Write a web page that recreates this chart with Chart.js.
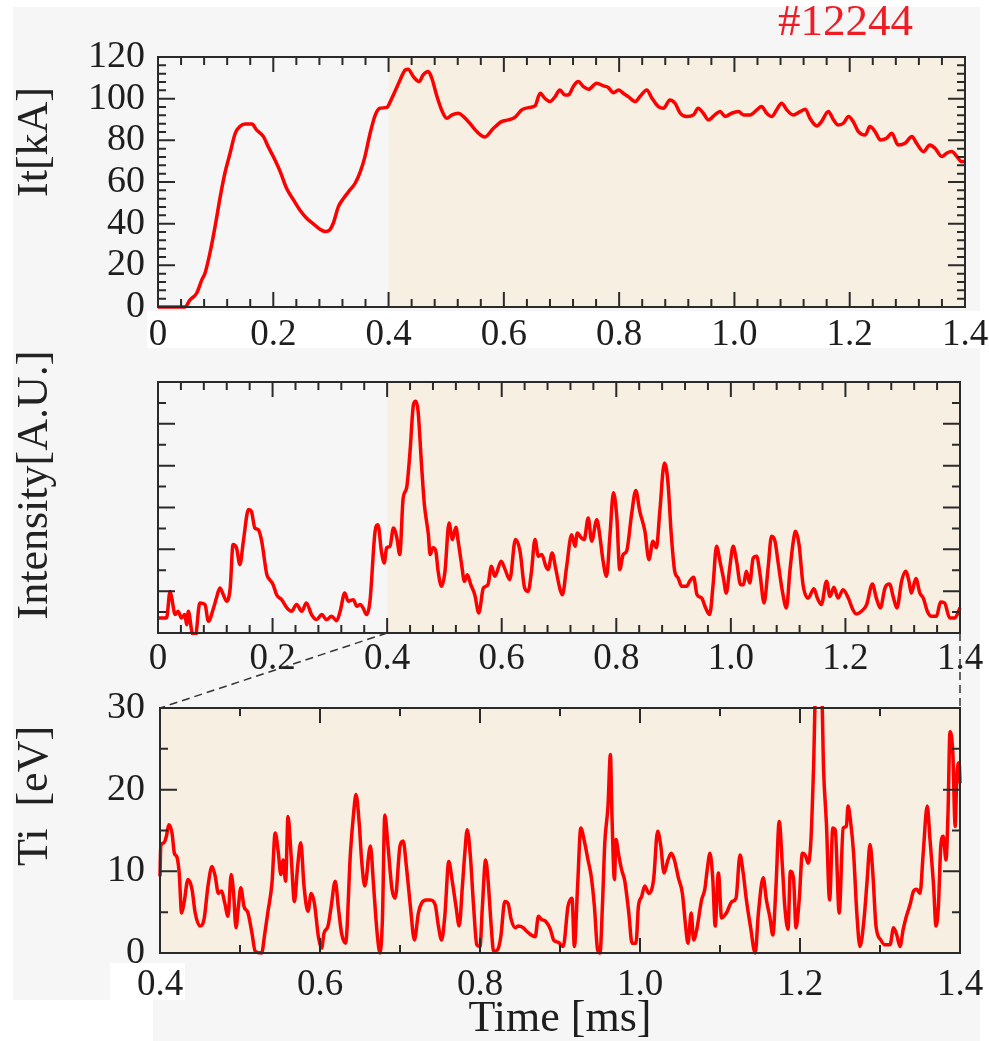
<!DOCTYPE html>
<html>
<head>
<meta charset="utf-8">
<script src="https://cdn.jsdelivr.net/npm/chart.js@4.4.1/dist/chart.umd.min.js"></script>
<style>
  html, body { margin: 0; padding: 0; background: #fff; }
  #page { position: relative; width: 989px; height: 1041px; overflow: hidden; background: #fff; }
  #paper { position: absolute; left: 13px; top: 7px; width: 967px; height: 1034px; background: #f6f6f6; }
  .patch { position: absolute; background: #fff; }
  canvas { position: absolute; left: 0; }
  .ylab { position: absolute; font-family: "Liberation Serif", serif; font-size: 44px; line-height: 44px;
          color: #222; white-space: pre; transform: translate(-50%, -50%) rotate(-90deg); }
  #shot { position: absolute; left: 778px; top: -2px; font-family: "Liberation Serif", serif;
          font-size: 45px; line-height: 45px; color: #ee1c24; }
</style>
</head>
<body>
<div id="page">
  <div id="paper"></div>
  <div class="patch" style="left:147px; top:311px; width:833px; height:37px"></div>
  <div class="patch" style="left:110px; top:963px; width:75px; height:37px"></div>
  <div class="patch" style="left:13px; top:1000px; width:140px; height:41px"></div>
  <canvas id="c1" width="989" height="365" style="top:0px"></canvas>
  <canvas id="c2" width="989" height="340" style="top:340px"></canvas>
  <canvas id="c3" width="989" height="361" style="top:680px"></canvas>
  <canvas id="over" width="989" height="1041" style="top:0px"></canvas>
  <div class="ylab" style="left:33px; top:142px">It[kA]</div>
  <div class="ylab" style="left:33px; top:485px">Intensity[A.U.]</div>
  <div class="ylab" style="left:33px; top:796px">Ti  [eV]</div>
  <div id="shot">#12244</div>
</div>
<script>
// plasma current, top panel
var currentT = [0, 0.047, 0.0555, 0.067, 0.076, 0.0815, 0.090, 0.099, 0.108, 0.116, 0.125, 0.134, 0.142, 0.151, 0.163,
  0.171, 0.183, 0.191, 0.200, 0.212, 0.223, 0.235, 0.246, 0.258, 0.270, 0.281, 0.290, 0.298, 0.304, 0.313, 0.322,
  0.333, 0.342, 0.351, 0.359, 0.368, 0.377, 0.385, 0.397, 0.403, 0.411, 0.420, 0.429, 0.434, 0.443, 0.453, 0.460,
  0.469, 0.475, 0.484, 0.492, 0.501, 0.510, 0.521, 0.530, 0.541, 0.553, 0.567, 0.582, 0.596, 0.608, 0.619, 0.631,
  0.645, 0.654, 0.663, 0.671, 0.680, 0.689, 0.697, 0.706, 0.712, 0.721, 0.729, 0.738, 0.747, 0.761, 0.773, 0.781,
  0.790, 0.799, 0.807, 0.816, 0.828, 0.836, 0.848, 0.857, 0.868, 0.877, 0.888, 0.897, 0.906, 0.917, 0.929, 0.937,
  0.946, 0.955, 0.966, 0.975, 0.984, 0.995, 1.007, 1.016, 1.027, 1.039, 1.047, 1.056, 1.065, 1.073, 1.082, 1.091,
  1.102, 1.114, 1.123, 1.131, 1.143, 1.151, 1.163, 1.172, 1.180, 1.189, 1.198, 1.206, 1.215, 1.227, 1.235, 1.244,
  1.253, 1.264, 1.273, 1.284, 1.296, 1.308, 1.316, 1.328, 1.339, 1.348, 1.360, 1.368, 1.377, 1.386, 1.394, 1.400];
var currentKA = [0, 0, 3.4, 6.6, 13.0, 16.2, 25.8, 38.6, 53.0, 64.2, 73.8, 83.4, 86.6, 87.8, 87.8,
  85.0, 81.8, 77.0, 72.2, 65.0, 57.0, 51.4, 46.6, 42.6, 39.8, 37.3, 36.2, 37.0, 40.2, 48.2, 52.2,
  56.2, 59.4, 65.0, 72.2, 83.4, 92.2, 95.4, 95.8, 98.6, 103.4, 109.0, 113.8, 114.1, 110.6, 108.2, 111.4,
  113.0, 109.8, 101.0, 94.6, 90.6, 92.2, 93.0, 91.4, 88.2, 84.2, 81.6, 85.8, 89.0, 89.8, 91.0, 94.6,
  95.8, 96.5, 102.6, 100.2, 98.6, 101.0, 104.2, 101.8, 101.8, 106.1, 108.2, 105.8, 104.5, 107.4, 106.1, 105.4,
  102.9, 104.2, 102.6, 101.0, 98.6, 101.0, 104.2, 100.2, 96.2, 95.4, 99.4, 97.8, 93.0, 91.4, 92.2, 95.4,
  93.0, 89.8, 92.2, 93.8, 91.4, 93.0, 93.8, 92.2, 92.2, 94.6, 96.2, 93.0, 91.4, 94.6, 97.8, 94.6,
  92.2, 93.8, 94.9, 90.6, 86.9, 89.0, 93.8, 89.8, 87.4, 88.2, 91.4, 89.0, 84.2, 82.6, 86.6, 84.2,
  80.2, 81.0, 83.4, 77.8, 78.6, 81.8, 78.6, 74.6, 77.8, 76.2, 72.2, 73.8, 74.6, 72.2, 69.8, 69.8];

// emission intensity, middle panel
var intensityT = [0, 0.015, 0.021, 0.024, 0.030, 0.035, 0.041, 0.047, 0.050, 0.053, 0.059, 0.065, 0.073, 0.082, 0.088,
  0.097, 0.102, 0.108, 0.114, 0.120, 0.126, 0.131, 0.137, 0.143, 0.149, 0.158, 0.163, 0.169, 0.175, 0.181, 0.190,
  0.195, 0.201, 0.207, 0.216, 0.225, 0.233, 0.242, 0.251, 0.259, 0.268, 0.277, 0.286, 0.294, 0.303, 0.312, 0.318,
  0.326, 0.332, 0.341, 0.347, 0.353, 0.358, 0.364, 0.370, 0.379, 0.384, 0.390, 0.395, 0.399, 0.405, 0.411, 0.417,
  0.422, 0.428, 0.434, 0.440, 0.446, 0.450, 0.454, 0.460, 0.465, 0.472, 0.475, 0.480, 0.485, 0.489, 0.495, 0.501,
  0.508, 0.514, 0.520, 0.524, 0.530, 0.535, 0.540, 0.546, 0.553, 0.560, 0.568, 0.576, 0.582, 0.588, 0.599, 0.606,
  0.614, 0.624, 0.632, 0.640, 0.646, 0.652, 0.658, 0.664, 0.670, 0.677, 0.681, 0.688, 0.694, 0.702, 0.706, 0.713,
  0.722, 0.728, 0.732, 0.739, 0.744, 0.751, 0.757, 0.766, 0.771, 0.777, 0.783, 0.789, 0.795, 0.801, 0.806, 0.812,
  0.818, 0.827, 0.834, 0.841, 0.850, 0.857, 0.864, 0.870, 0.876, 0.884, 0.890, 0.896, 0.902, 0.908, 0.914, 0.923,
  0.928, 0.935, 0.941, 0.949, 0.956, 0.963, 0.969, 0.975, 0.981, 0.987, 0.992, 0.998, 1.004, 1.010, 1.017, 1.022,
  1.027, 1.033, 1.039, 1.045, 1.051, 1.058, 1.065, 1.071, 1.077, 1.083, 1.090, 1.097, 1.103, 1.109, 1.113, 1.119,
  1.126, 1.135, 1.145, 1.151, 1.158, 1.167, 1.173, 1.180, 1.187, 1.196, 1.205, 1.213, 1.219, 1.228, 1.237, 1.247,
  1.254, 1.261, 1.269, 1.277, 1.284, 1.290, 1.298, 1.305, 1.311, 1.315, 1.323, 1.330, 1.336, 1.343, 1.350, 1.359,
  1.366, 1.373, 1.382, 1.391, 1.400];
var intensityAU = [0.72, 0.72, 1.99, 1.67, 0.88, 1.04, 0.72, 0.88, 0.40, 1.04, 0.08, -0.2, 1.44, 1.36, 0.56,
  1.20, 1.67, 2.15, 1.83, 1.52, 2.15, 4.23, 4.07, 3.27, 4.39, 5.90, 5.82, 5.02, 4.94, 4.39, 2.79,
  2.55, 2.31, 1.83, 1.59, 1.20, 1.04, 1.36, 1.04, 1.44, 0.88, 0.64, 0.88, 0.64, 0.80, 0.59, 1.04,
  1.91, 1.52, 1.59, 1.28, 1.36, 1.20, 0.88, 1.52, 4.86, 5.18, 3.91, 3.35, 4.07, 4.15, 5.02, 4.55,
  3.75, 6.46, 6.94, 8.69, 10.93, 11.08, 10.61, 8.05, 6.14, 4.70, 3.75, 4.07, 3.91, 2.95, 2.23, 2.95,
  5.26, 4.47, 5.06, 4.39, 3.27, 2.47, 2.79, 2.31, 1.83, 0.96, 2.15, 2.31, 3.19, 2.71, 3.43, 3.03,
  2.55, 4.47, 3.91, 2.15, 1.99, 2.95, 4.47, 3.67, 3.75, 3.19, 3.03, 3.83, 3.11, 2.07, 1.83, 3.11,
  4.70, 4.15, 4.78, 4.55, 4.47, 5.50, 4.39, 5.42, 4.70, 3.43, 2.71, 4.70, 6.70, 5.50, 3.03, 3.75,
  3.91, 5.74, 6.81, 5.82, 4.86, 3.51, 4.39, 4.07, 5.82, 8.13, 7.26, 4.70, 2.95, 2.63, 2.23, 2.23,
  2.47, 2.66, 1.83, 1.67, 1.20, 0.88, 2.31, 4.15, 3.43, 2.63, 1.91, 3.11, 4.15, 3.43, 2.31, 2.31,
  2.95, 2.39, 3.59, 3.67, 2.79, 1.44, 3.11, 4.63, 4.39, 3.27, 1.99, 1.20, 2.95, 4.39, 4.86, 4.23,
  2.31, 1.67, 2.12, 1.67, 1.36, 2.47, 1.75, 2.19, 1.67, 2.07, 1.67, 1.12, 0.91, 1.04, 1.36, 2.34,
  1.67, 1.20, 2.15, 2.34, 1.67, 1.20, 2.47, 2.95, 2.47, 1.91, 2.60, 1.91, 1.67, 1.04, 0.80, 0.80,
  1.48, 1.44, 0.72, 0.72, 1.20];

// ion temperature, bottom panel (zoom of 0.4 - 1.4 ms)
var tiT = [0.400, 0.401, 0.405, 0.408, 0.411, 0.415, 0.418, 0.421, 0.424, 0.427, 0.430, 0.435, 0.440, 0.444, 0.450,
  0.455, 0.460, 0.465, 0.469, 0.473, 0.477, 0.481, 0.485, 0.489, 0.492, 0.495, 0.498, 0.501, 0.505, 0.510, 0.515,
  0.519, 0.527, 0.531, 0.535, 0.540, 0.544, 0.548, 0.551, 0.554, 0.557, 0.560, 0.564, 0.568, 0.572, 0.576, 0.580,
  0.585, 0.589, 0.593, 0.598, 0.602, 0.605, 0.610, 0.614, 0.619, 0.623, 0.627, 0.632, 0.638, 0.642, 0.645, 0.649,
  0.652, 0.656, 0.663, 0.667, 0.671, 0.675, 0.678, 0.681, 0.685, 0.690, 0.694, 0.700, 0.704, 0.708, 0.713, 0.718,
  0.723, 0.727, 0.733, 0.738, 0.744, 0.748, 0.752, 0.756, 0.761, 0.765, 0.770, 0.774, 0.778, 0.781, 0.784, 0.788,
  0.792, 0.796, 0.800, 0.803, 0.807, 0.810, 0.814, 0.817, 0.822, 0.826, 0.831, 0.835, 0.839, 0.844, 0.848, 0.854,
  0.858, 0.864, 0.869, 0.873, 0.877, 0.882, 0.888, 0.892, 0.898, 0.904, 0.910, 0.915, 0.918, 0.922, 0.926, 0.930,
  0.935, 0.939, 0.943, 0.947, 0.950, 0.953, 0.956, 0.960, 0.963, 0.965, 0.968, 0.970, 0.973, 0.977, 0.981, 0.986,
  0.990, 0.995, 0.998, 1.002, 1.006, 1.011, 1.017, 1.022, 1.026, 1.030, 1.035, 1.039, 1.043, 1.048, 1.053, 1.057,
  1.060, 1.064, 1.067, 1.071, 1.077, 1.081, 1.084, 1.0875, 1.091, 1.094, 1.098, 1.102, 1.108, 1.115, 1.120, 1.125,
  1.129, 1.133, 1.138, 1.144, 1.148, 1.154, 1.158, 1.1625, 1.166, 1.170, 1.174, 1.178, 1.181, 1.185, 1.188, 1.192,
  1.195, 1.199, 1.203, 1.2075, 1.210, 1.2135, 1.217, 1.2195, 1.227, 1.2295, 1.233, 1.237, 1.241, 1.244, 1.249, 1.254,
  1.258, 1.260, 1.263, 1.267, 1.271, 1.275, 1.280, 1.284, 1.2875, 1.291, 1.295, 1.301, 1.306, 1.3125, 1.317, 1.321,
  1.325, 1.329, 1.333, 1.3375, 1.342, 1.346, 1.350, 1.354, 1.359, 1.3625, 1.367, 1.370, 1.373, 1.376, 1.379, 1.3825,
  1.385, 1.3875, 1.391, 1.394, 1.396, 1.399, 1.400];
var tiEV = [9.4, 13.1, 13.5, 14.3, 15.7, 14.7, 12.2, 11.8, 9.8, 4.9, 6.1, 9.0, 7.8, 4.9, 3.3,
  4.1, 8.2, 10.6, 9.4, 7.3, 7.6, 6.1, 4.5, 9.6, 7.3, 3.1, 5.7, 8.0, 5.7, 4.9, 2.4,
  0.2, 0, 2.4, 5.1, 8.6, 14.7, 12.2, 9.6, 11.4, 8.8, 16.7, 11.8, 6.3, 10.6, 13.5, 8.2,
  5.1, 7.3, 6.1, 2.0, 0.6, 2.4, 3.3, 5.7, 8.8, 5.5, 2.4, 1.2, 12.2, 17.1, 19.4, 15.9,
  11.4, 8.2, 13.1, 8.2, 2.9, 0, 4.1, 16.9, 13.1, 7.8, 6.7, 13.1, 13.7, 10.6, 5.7, 1.6,
  4.9, 6.1, 6.5, 6.5, 5.9, 3.3, 1.6, 4.5, 11.2, 9.0, 5.7, 3.3, 8.2, 12.2, 15.1, 11.8,
  5.7, 1.0, 0.8, 5.7, 11.4, 9.0, 3.3, 0.2, 0.4, 2.0, 6.3, 6.1, 4.1, 3.1, 3.3, 3.1,
  2.7, 2.2, 2.0, 4.5, 4.1, 3.9, 2.9, 1.6, 1.3, 0.8, 5.7, 6.7, 0.8, 8.2, 15.3, 13.9,
  11.4, 9.4, 5.7, 0.4, 0, 5.7, 13.5, 18.0, 24.3, 16.7, 9.0, 13.9, 12.2, 10.2, 8.8, 4.9,
  1.2, 1.2, 5.7, 6.9, 8.2, 7.3, 9.0, 14.9, 13.1, 9.8, 11.4, 12.2, 11.4, 9.2, 7.3, 3.3,
  1.2, 4.9, 1.6, 2.9, 6.5, 7.8, 10.2, 12.2, 9.0, 3.3, 9.8, 4.3, 4.9, 6.3, 6.7, 12.0,
  9.8, 6.5, 3.3, 0, 4.9, 9.2, 6.5, 4.3, 2.2, 8.2, 16.1, 10.6, 5.7, 2.9, 10.0, 9.0,
  3.1, 6.5, 12.2, 11.8, 11.0, 13.5, 22.9, 32, 32, 22.4, 15.9, 6.5, 15.3, 15.1, 4.9, 15.3,
  15.5, 18.0, 16.3, 12.2, 4.9, 0.8, 4.1, 9.0, 13.3, 9.8, 3.3, 1.6, 1.0, 1.0, 3.1, 2.2,
  0.8, 2.9, 4.5, 5.9, 7.6, 7.8, 7.3, 12.2, 18.0, 13.9, 8.2, 3.3, 5.7, 13.1, 14.3, 11.4,
  17.1, 27.1, 24.5, 15.5, 21.6, 23.3, 20.8];

// tick labels
var timeTicksFull = [0, 0.2, 0.4, 0.6, 0.8, 1.0, 1.2, 1.4];
var timeTicksZoom = [0.4, 0.6, 0.8, 1.0, 1.2, 1.4];
var currentTicks = [0, 20, 40, 60, 80, 100, 120];
var tiTicks = [0, 10, 20, 30];

var serif = "'Liberation Serif', 'Times New Roman', serif";
var ink = "#1e1e1e";
var beige = "rgb(248, 239, 227)";

// shaded window + box frame with inward ticks on all four sides
var framePlugin = {
    id: "frame",
    beforeDatasetsDraw: function (chart, args, opts) {
        var a = chart.chartArea;
        var ctx = chart.ctx;
        var s = chart.scales.x.getPixelForValue(opts.shadeFrom);
        ctx.save();
        ctx.fillStyle = beige;
        ctx.fillRect(s, a.top, a.right - s, a.bottom - a.top);
        ctx.restore();
    },
    afterDatasetsDraw: function (chart, args, opts) {
        var a = chart.chartArea;
        var ctx = chart.ctx;
        var sx = chart.scales.x, sy = chart.scales.y;
        ctx.save();
        ctx.strokeStyle = "#2a2a2a";
        ctx.lineWidth = 2;
        ctx.beginPath();
        var n = Math.round((sx.max - sx.min) / opts.xStep);
        for (var i = 0; i <= n; i++) {
            var px = sx.getPixelForValue(sx.min + i * opts.xStep);
            var len = (i % opts.xEvery === 0) ? 15 : 8;
            ctx.moveTo(px, a.bottom); ctx.lineTo(px, a.bottom - len);
            ctx.moveTo(px, a.top); ctx.lineTo(px, a.top + len);
        }
        var m = Math.round((sy.max - sy.min) / opts.yStep);
        for (var j = 0; j <= m; j++) {
            var py = sy.getPixelForValue(sy.min + j * opts.yStep);
            var len2 = (j % opts.yEvery === 0) ? 17 : 8;
            ctx.moveTo(a.left, py); ctx.lineTo(a.left + len2, py);
            ctx.moveTo(a.right, py); ctx.lineTo(a.right - len2, py);
        }
        ctx.stroke();
        ctx.strokeRect(a.left, a.top, a.right - a.left, a.bottom - a.top);
        ctx.restore();
    }
};
Chart.register(framePlugin);

function toPoints(xs, ys) {
    var pts = [];
    for (var i = 0; i < xs.length; i++) {
        pts.push({x: xs[i], y: ys[i]});
    }
    return pts;
}

function timeLabel(v) {
    return v === 0 ? "0" : v.toFixed(1);
}

function makePanel(id, cfg) {
    return new Chart(document.getElementById(id), {
        type: "line",
        data: {
            datasets: [{
                data: toPoints(cfg.xs, cfg.ys),
                borderColor: "#ff0000",
                borderWidth: 3.5,
                pointRadius: 0,
                cubicInterpolationMode: "monotone",
                clip: 2
            }]
        },
        options: {
            animation: false,
            responsive: false,
            events: [],
            layout: {padding: cfg.padding},
            plugins: {
                legend: {display: false},
                tooltip: {enabled: false},
                frame: cfg.frame
            },
            scales: {
                x: {
                    type: "linear",
                    min: cfg.xMin,
                    max: 1.4,
                    grid: {display: false},
                    border: {display: false},
                    title: cfg.xTitle || {display: false},
                    afterBuildTicks: function (s) {
                        s.ticks = cfg.xTicks.map(function (v) { return {value: v}; });
                    },
                    ticks: {
                        autoSkip: false,
                        maxRotation: 0,
                        padding: cfg.xPad,
                        color: ink,
                        font: {family: serif, size: 37, lineHeight: 1},
                        callback: timeLabel
                    },
                    afterFit: function (s) {
                        s.height = cfg.xHeight;
                        s.paddingLeft = 0;
                        s.paddingRight = 0;
                    }
                },
                y: {
                    min: cfg.yMin,
                    max: cfg.yMax,
                    grid: {display: false},
                    border: {display: false},
                    afterBuildTicks: function (s) {
                        if (cfg.yTicks) {
                            s.ticks = cfg.yTicks.map(function (v) { return {value: v}; });
                        }
                    },
                    ticks: {
                        display: !!cfg.yTicks,
                        padding: cfg.yPad,
                        color: ink,
                        font: {family: serif, size: 38, lineHeight: 1}
                    },
                    afterFit: function (s) {
                        s.width = cfg.yWidth;
                        s.paddingTop = 0;
                        s.paddingBottom = 0;
                    }
                }
            }
        }
    });
}

var chart1 = makePanel("c1", {
    xs: currentT, ys: currentKA,
    xMin: 0, xTicks: timeTicksFull, xPad: 2, xHeight: 50,
    yMin: 0, yMax: 120, yTicks: currentTicks, yPad: 5, yWidth: 158,
    padding: {left: 0, right: 24, top: 57, bottom: 8},
    frame: {shadeFrom: 0.4, xStep: 0.04, xEvery: 5, yStep: 4, yEvery: 5}
});

var chart2 = makePanel("c2", {
    xs: intensityT, ys: intensityAU,
    xMin: 0, xTicks: timeTicksFull, xPad: 0, xHeight: 40,
    yMin: 0, yMax: 12, yTicks: null, yPad: 5, yWidth: 158,
    padding: {left: 0, right: 29, top: 42, bottom: 7},
    frame: {shadeFrom: 0.4, xStep: 0.04, xEvery: 5, yStep: 1, yEvery: 2}
});

var chart3 = makePanel("c3", {
    xs: tiT, ys: tiEV,
    xMin: 0.4, xTicks: timeTicksZoom, xPad: 6, xHeight: 88,
    xTitle: {display: true, text: "Time [ms]", color: ink, font: {family: serif, size: 44, lineHeight: 1}, padding: {top: 0, bottom: 0}},
    yMin: 0, yMax: 30, yTicks: tiTicks, yPad: 7, yWidth: 160,
    padding: {left: 0, right: 29, top: 28, bottom: 0},
    frame: {shadeFrom: 0.4, xStep: 0.1, xEvery: 2, yStep: 5, yEvery: 2}
});

// dashed lines linking the 0.4-1.4 window of the middle panel to the bottom panel
function drawLinks() {
    var ctx = document.getElementById("over").getContext("2d");
    var top2 = 340, top3 = 680;
    var yFrom = top2 + chart2.chartArea.bottom;
    var yTo = top3 + chart3.chartArea.top;
    ctx.save();
    ctx.strokeStyle = "#333";
    ctx.lineWidth = 1.5;
    ctx.setLineDash([8, 5]);
    ctx.beginPath();
    ctx.moveTo(chart2.scales.x.getPixelForValue(0.4), yFrom);
    ctx.lineTo(chart3.scales.x.getPixelForValue(0.4), yTo);
    ctx.moveTo(chart2.scales.x.getPixelForValue(1.4), yFrom);
    ctx.lineTo(chart3.scales.x.getPixelForValue(1.4), yTo);
    ctx.stroke();
    ctx.restore();
}
drawLinks();
</script>
</body>
</html>
